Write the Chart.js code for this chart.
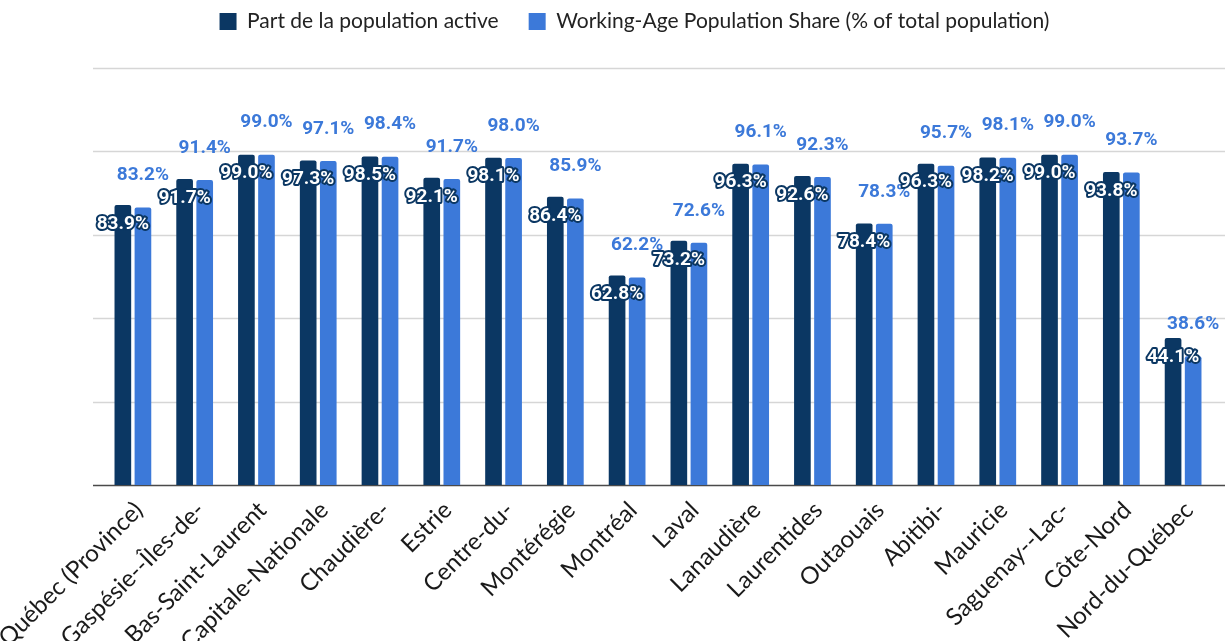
<!DOCTYPE html>
<html>
<head>
<meta charset="utf-8">
<script src="https://cdn.jsdelivr.net/npm/chart.js@4.4.1/dist/chart.umd.min.js"></script>
<style>
    html, body { margin: 0; padding: 0; background: #fff; overflow: hidden; }
    #wrap { width: 1225px; height: 641px; position: relative; }
</style>
</head>
<body>
<div id="wrap"><canvas id="regionChart"></canvas></div>
<script>
// Régions (libellés tels qu'affichés, tronqués dans l'original)
const regions = [
    'Québec (Province)', 'Gaspésie--Îles-de-', 'Bas-Saint-Laurent', 'Capitale-Nationale',
    'Chaudière-', 'Estrie', 'Centre-du-', 'Montérégie', 'Montréal', 'Laval',
    'Lanaudière', 'Laurentides', 'Outaouais', 'Abitibi-', 'Mauricie',
    'Saguenay--Lac-', 'Côte-Nord', 'Nord-du-Québec'
];

// Part de la population active (%)
const partActive = [
    83.9, 91.7, 99.0, 97.3, 98.5, 92.1, 98.1, 86.4, 62.8,
    73.2, 96.3, 92.6, 78.4, 96.3, 98.2, 99.0, 93.8, 44.1
];

// Working-Age Population Share (% of total population)
const workingAge = [
    83.2, 91.4, 99.0, 97.1, 98.4, 91.7, 98.0, 85.9, 62.2,
    72.6, 96.1, 92.3, 78.3, 95.7, 98.1, 99.0, 93.7, 38.6
];

// Graduations de l'axe Y (non affichées, seulement les lignes)
const yTicks = [0, 25, 50, 75, 100, 125];

const DARK = '#0b3763';
const LIGHT = '#3c79d9';

// Lignes de grille dessinées un peu au-delà de la zone du graphique
const gridPlugin = {
    id: 'gridLines',
    beforeDatasetsDraw(chart) {
        const { ctx, chartArea, scales } = chart;
        ctx.save();
        yTicks.forEach(v => {
            const y = Math.round(scales.y.getPixelForValue(v)) + 0.5;
            ctx.beginPath();
            ctx.strokeStyle = v === 0 ? '#4a4a4a' : '#d6d6d6';
            ctx.lineWidth = 1.5;
            ctx.moveTo(chartArea.left - 9, y);
            ctx.lineTo(chart.width, y);
            ctx.stroke();
        });
        ctx.restore();
    }
};

// Étiquettes de valeurs
const labelPlugin = {
    id: 'valueLabels',
    afterDatasetsDraw(chart) {
        const { ctx } = chart;
        ctx.save();
        ctx.textAlign = 'center';
        ctx.textBaseline = 'middle';

        // série bleue : au-dessus de la barre
        const lightMeta = chart.getDatasetMeta(1);
        ctx.font = 'bold 19px Roboto';
        ctx.fillStyle = LIGHT;
        lightMeta.data.forEach((bar, i) => {
            ctx.fillText(workingAge[i].toFixed(1) + '%', bar.x, bar.y - 32);
        });

        // série foncée : texte blanc avec contour
        const darkMeta = chart.getDatasetMeta(0);
        ctx.font = 'bold 19px Roboto';
        ctx.lineJoin = 'round';
        ctx.lineWidth = 4;
        ctx.strokeStyle = DARK;
        ctx.fillStyle = '#ffffff';
        darkMeta.data.forEach((bar, i) => {
            const txt = partActive[i].toFixed(1) + '%';
            ctx.strokeText(txt, bar.x, bar.y + 19);
            ctx.fillText(txt, bar.x, bar.y + 19);
        });
        ctx.restore();
    }
};

// Hauteur fixe de la légende pour placer la zone du graphique
const legendHeightPlugin = {
    id: 'legendHeight',
    afterInit(chart) {
        const fit = chart.legend.fit;
        chart.legend.fit = function() {
            fit.call(this);
            this.height = 87;
        };
    }
};

new Chart(document.getElementById('regionChart'), {
    type: 'bar',
    data: {
        labels: regions,
        datasets: [{
            label: 'Part de la population active',
            data: partActive,
            backgroundColor: DARK,
            borderRadius: 2,
            categoryPercentage: 0.65,
            barPercentage: 0.83
        }, {
            label: 'Working-Age Population Share (% of total population)',
            data: workingAge,
            backgroundColor: LIGHT,
            borderRadius: 2,
            categoryPercentage: 0.65,
            barPercentage: 0.83
        }]
    },
    options: {
        responsive: true,
        maintainAspectRatio: false,
        animation: false,
        devicePixelRatio: 1,
        layout: {
            autoPadding: false,
            padding: { top: -19, left: 55, right: 11, bottom: 0 }
        },
        plugins: {
            legend: {
                position: 'top',
                labels: {
                    boxWidth: 17,
                    boxHeight: 17,
                    padding: 30,
                    color: '#222',
                    font: { family: 'Lato', size: 21 }
                }
            },
            tooltip: { enabled: false }
        },
        scales: {
            x: {
                grid: { display: false },
                border: { display: false },
                ticks: {
                    autoSkip: false,
                    minRotation: 45,
                    maxRotation: 45,
                    labelOffset: 6,
                    color: '#1a1a1a',
                    font: { family: 'Lato', size: 24 }
                },
                afterFit(scale) {
                    // les libellés peuvent déborder du canevas comme dans l'original
                    scale.height = 156;
                    scale.paddingLeft = 0;
                    scale.paddingRight = 0;
                }
            },
            y: {
                min: 0,
                max: 125,
                grid: { display: false },
                border: { display: false },
                ticks: { display: false, stepSize: 25 },
                afterFit(scale) {
                    scale.width = 47;
                }
            }
        }
    },
    plugins: [legendHeightPlugin, gridPlugin, labelPlugin]
});
</script>
</body>
</html>
